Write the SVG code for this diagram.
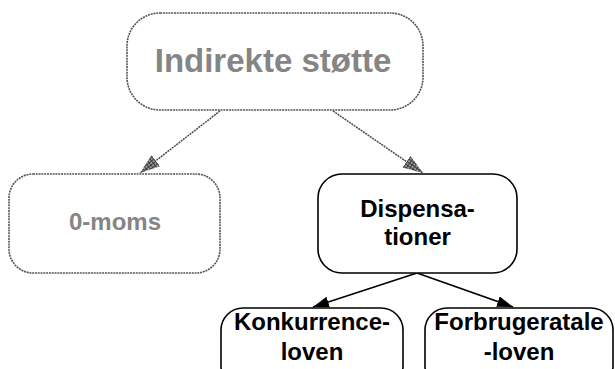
<svg xmlns="http://www.w3.org/2000/svg" width="615" height="369" viewBox="0 0 615 369">
<style>
.gbox{fill:#fff;stroke:#555;stroke-width:1.6;stroke-dasharray:2 0.8}
.bbox{fill:#fff;stroke:#000;stroke-width:1.6}
.gtxt{font-family:"Liberation Sans",Arial,sans-serif;font-weight:bold;fill:#858585;text-anchor:middle}
.btxt{font-family:"Liberation Sans",Arial,sans-serif;font-weight:bold;fill:#000;text-anchor:middle;font-size:24px}
.gline{fill:none;stroke:#4a4a4a;stroke-width:1.5;stroke-dasharray:2 0.8}
.bline{fill:none;stroke:#000;stroke-width:1.6}
</style>
<defs>
<pattern id="hatch" width="3" height="3" patternUnits="userSpaceOnUse">
<rect width="3" height="3" fill="#9a9a9a"/>
<path d="M0,0.5H3M0.5,0V3" stroke="#3c3c3c" stroke-width="1"/>
</pattern>
<marker id="garrow" markerUnits="userSpaceOnUse" markerWidth="21" markerHeight="15" refX="20" refY="7" orient="auto">
<path d="M0,0 L20,7 L0,14 z" fill="url(#hatch)"/>
</marker>
<marker id="barrow" markerUnits="userSpaceOnUse" markerWidth="17" markerHeight="12" refX="16" refY="5.5" orient="auto">
<path d="M0,0 L16,5.5 L0,11 z" fill="#000"/>
</marker>
</defs>
<g id="connectors">
<line class="gline" x1="220" y1="111" x2="140" y2="173" marker-end="url(#garrow)"/>
<line class="gline" x1="333" y1="111" x2="423" y2="173" marker-end="url(#garrow)"/>
<line class="bline" x1="417" y1="273" x2="313" y2="307" marker-end="url(#barrow)"/>
<line class="bline" x1="417" y1="273" x2="513" y2="307" marker-end="url(#barrow)"/>
</g>
<g id="node-indirekte">
<rect class="gbox" x="127" y="13" width="296" height="97" rx="33" ry="33"/>
<text class="gtxt" x="273" y="72" font-size="33">Indirekte støtte</text>
</g>
<g id="node-0moms">
<rect class="gbox" x="9" y="174" width="211" height="99" rx="24" ry="24"/>
<text class="gtxt" x="115" y="230" font-size="24">0-moms</text>
</g>
<g id="node-dispensationer">
<rect class="bbox" x="318" y="174" width="199" height="99" rx="24" ry="24"/>
<text class="btxt" x="417.5" y="217">Dispensa-</text>
<text class="btxt" x="417.5" y="245">tioner</text>
</g>
<g id="node-konkurrence">
<rect class="bbox" x="221" y="308" width="182" height="80" rx="22" ry="22"/>
<text class="btxt" x="312" y="330">Konkurrence-</text>
<text class="btxt" x="312" y="360">loven</text>
</g>
<g id="node-forbruger">
<rect class="bbox" x="425" y="308" width="188" height="80" rx="22" ry="22"/>
<text class="btxt" x="519" y="330">Forbrugeratale</text>
<text class="btxt" x="519" y="360">-loven</text>
</g>
</svg>
